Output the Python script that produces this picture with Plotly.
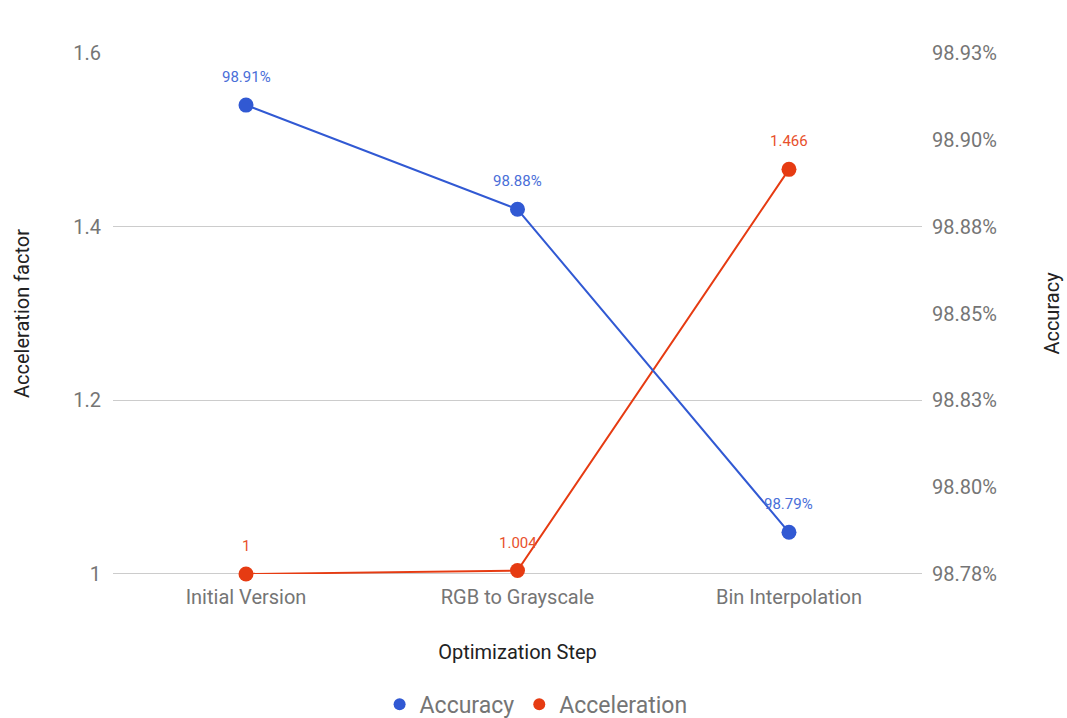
import plotly.graph_objects as go

# Optimization steps and measured results
steps = ["Initial Version", "RGB to Grayscale", "Bin Interpolation"]
accuracy = [98.91, 98.88, 98.787]          # percent
acceleration = [1.0, 1.004, 1.466]         # speed-up factor

acc_ticks = [98.775, 98.80, 98.825, 98.85, 98.875, 98.90, 98.925]
acc_tick_text = ["98.78%", "98.80%", "98.83%", "98.85%", "98.88%", "98.90%", "98.93%"]

BLUE = "#3159d3"
RED = "#e63b12"
GRID = "#cccccc"
TICK = "#757575"
TITLE = "#222222"
FONT = "Roboto, Arial, sans-serif"
HIDDEN = "rgba(0,0,0,0)"

fig = go.Figure()

series = [
    ("Accuracy", accuracy, "y2", BLUE, "#4a6ed8", [f"{v:.2f}%" for v in accuracy]),
    ("Acceleration", acceleration, "y", RED, "#e8502c", [f"{v:g}" for v in acceleration]),
]

for name, values, axis, color, label_color, labels in series:
    fig.add_trace(go.Scatter(
        x=steps, y=values, name=name, yaxis=axis,
        mode="lines+markers", showlegend=False,
        line=dict(color=color, width=2),
        marker=dict(color=color, size=15),
        cliponaxis=False,
    ))
    # value labels above each point
    for step, v, t in zip(steps, values, labels):
        fig.add_annotation(
            x=step, y=v, xref="x", yref=axis, text=t, showarrow=False,
            yshift=28, font=dict(size=15, color=label_color, family=FONT),
        )

# legend entries drawn as plain dots
for name, _, _, color, _, _ in series:
    fig.add_trace(go.Scatter(
        x=[None], y=[None], name=name, mode="markers",
        marker=dict(color=color, size=15),
    ))

fig.update_layout(
    width=1067, height=718,
    margin=dict(l=113, r=145, t=53, b=144, autoexpand=False),
    paper_bgcolor="white", plot_bgcolor="white",
    font=dict(family=FONT, color=TICK, size=20),
    showlegend=True,
    legend=dict(
        orientation="h", x=0.523, xanchor="center", y=-0.25, yanchor="middle",
        font=dict(size=23, color=TICK), itemsizing="constant",
        traceorder="normal", itemwidth=30,
    ),
    xaxis=dict(
        type="category", range=[-0.49, 2.49], automargin=False,
        showgrid=False, zeroline=False, showline=False,
        ticks="outside", ticklen=5, tickcolor=HIDDEN,
        tickfont=dict(size=20, color=TICK),
        title=dict(text="Optimization Step", font=dict(size=20, color=TITLE), standoff=36),
    ),
    yaxis=dict(
        range=[1.0, 1.6], tickvals=[1.0, 1.2, 1.4, 1.6], ticktext=["1", "1.2", "1.4", "1.6"],
        automargin=False,
        showgrid=True, gridcolor=GRID, gridwidth=1,
        zeroline=False, showline=False, ticks="outside", ticklen=7, tickcolor=HIDDEN,
        tickfont=dict(size=20, color=TICK),
        title=dict(text="Acceleration factor", font=dict(size=20, color=TITLE), standoff=38),
    ),
    yaxis2=dict(
        overlaying="y", side="right", automargin=False,
        range=[98.775, 98.925], tickvals=acc_ticks, ticktext=acc_tick_text,
        showgrid=False, zeroline=False, showline=False,
        ticks="outside", ticklen=5, tickcolor=HIDDEN,
        tickfont=dict(size=20, color=TICK),
        title=dict(text="Accuracy", font=dict(size=20, color=TITLE), standoff=49),
    ),
)

# darker baseline along the bottom of the plot
fig.add_shape(type="line", xref="paper", yref="y", x0=0, x1=1, y0=1.0, y1=1.0,
              line=dict(color="#999999", width=1), layer="below")

fig.write_html("out.html")
